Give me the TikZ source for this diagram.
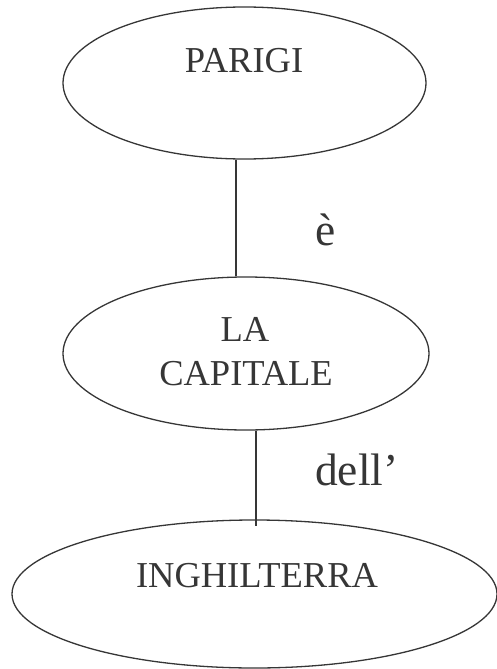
\documentclass[tikz,border=0pt]{standalone}
\usepackage{fontspec}
\setmainfont{Liberation Serif}
\usetikzlibrary{shapes.geometric}
\definecolor{ink}{HTML}{363636}
\tikzset{
  oval/.style={draw=ink, line width=1.3pt, ellipse, inner sep=0pt},
  word/.style={text=ink, font=\fontsize{36.5}{44}\selectfont, inner sep=0pt, anchor=base},
  leftword/.style={text=ink, font=\fontsize{45.5}{54}\selectfont, inner sep=0pt, anchor=base west},
  link/.style={draw=ink, line width=1.2pt}
}
\begin{document}
\begin{tikzpicture}[x=1pt,y=-1pt]
\useasboundingbox (0,0) rectangle (497,669);
\node[oval, minimum width=363pt, minimum height=152pt] (e1) at (244.5,83) {};
\node[oval, minimum width=366pt, minimum height=153pt] (e2) at (246,353.5) {};
\node[oval, minimum width=485pt, minimum height=148pt] (e3) at (254.5,594) {};
\node[word] (t1) at (244,73) {PARIGI};
\node[word] (t2a) at (245,341) {LA};
\node[word] (t2b) at (246,385) {CAPITALE};
\node[word] (t3) at (257,587) {INGHILTERRA};
\node[leftword] (l1) at (315,245) {è};
\node[leftword] (l2) at (315,485) {dell’};
\draw[link] ([xshift=-8.5pt]e1.south) -- ([xshift=-10pt]e2.north);
\draw[link] ([xshift=10pt]e2.south) -- ([xshift=1.5pt,yshift=-7pt]e3.north);
\end{tikzpicture}
\end{document}
